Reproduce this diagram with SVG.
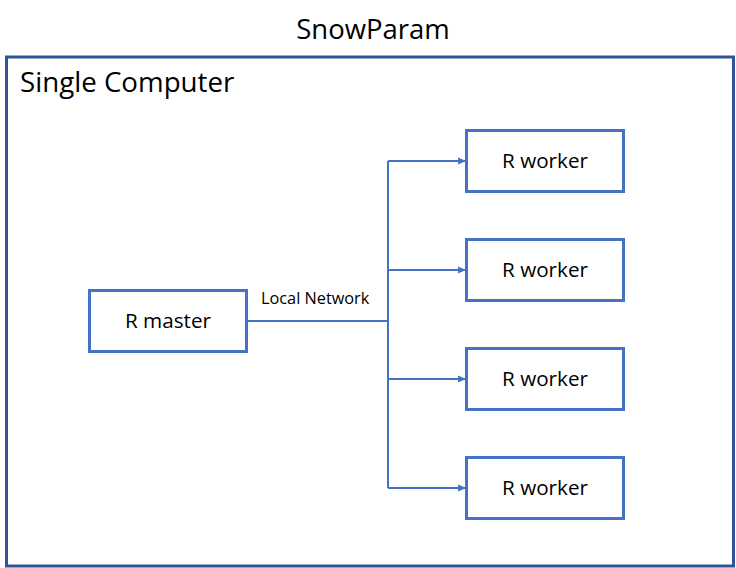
<svg xmlns="http://www.w3.org/2000/svg" width="736" height="568" viewBox="0 0 736 568">
<style>
text{font-family:"Open Sans","Liberation Sans",sans-serif;fill:#000}
.box{fill:#fff;stroke:#4472C4;stroke-width:3}
.lbl{font-size:20.7px;text-anchor:middle}
.conn{fill:none;stroke:#4472C4;stroke-width:2}
</style>
<defs>
<marker id="arr" markerWidth="8" markerHeight="8" refX="7" refY="4" orient="auto" markerUnits="userSpaceOnUse">
<path d="M0,0.5 L8,4 L0,7.5 Z" fill="#4472C4"/>
</marker>
</defs>
<rect width="736" height="568" fill="#fff"/>
<text x="373" y="39" font-size="27.5" text-anchor="middle">SnowParam</text>
<g id="computer">
<rect x="6.5" y="57" width="727" height="509" fill="none" stroke="#2F5597" stroke-width="3"/>
<text x="20" y="92" font-size="27.7">Single Computer</text>
</g>
<g id="connectors">
<polyline class="conn" points="248,321 388,321"/>
<polyline class="conn" points="388,161 388,488"/>
<line class="conn" x1="388" y1="161" x2="465" y2="161" marker-end="url(#arr)"/>
<line class="conn" x1="388" y1="270" x2="465" y2="270" marker-end="url(#arr)"/>
<line class="conn" x1="388" y1="379" x2="465" y2="379" marker-end="url(#arr)"/>
<line class="conn" x1="388" y1="488" x2="465" y2="488" marker-end="url(#arr)"/>
<text x="261" y="304" font-size="16.3">Local Network</text>
</g>
<g id="master">
<rect class="box" x="89.5" y="290.5" width="157" height="61"/>
<text class="lbl" x="168" y="328">R master</text>
</g>
<g id="worker1">
<rect class="box" x="466.5" y="130.5" width="157" height="61"/>
<text class="lbl" x="545" y="168">R worker</text>
</g>
<g id="worker2">
<rect class="box" x="466.5" y="239.5" width="157" height="61"/>
<text class="lbl" x="545" y="277">R worker</text>
</g>
<g id="worker3">
<rect class="box" x="466.5" y="348.5" width="157" height="61"/>
<text class="lbl" x="545" y="386">R worker</text>
</g>
<g id="worker4">
<rect class="box" x="466.5" y="457.5" width="157" height="61"/>
<text class="lbl" x="545" y="495">R worker</text>
</g>
</svg>
